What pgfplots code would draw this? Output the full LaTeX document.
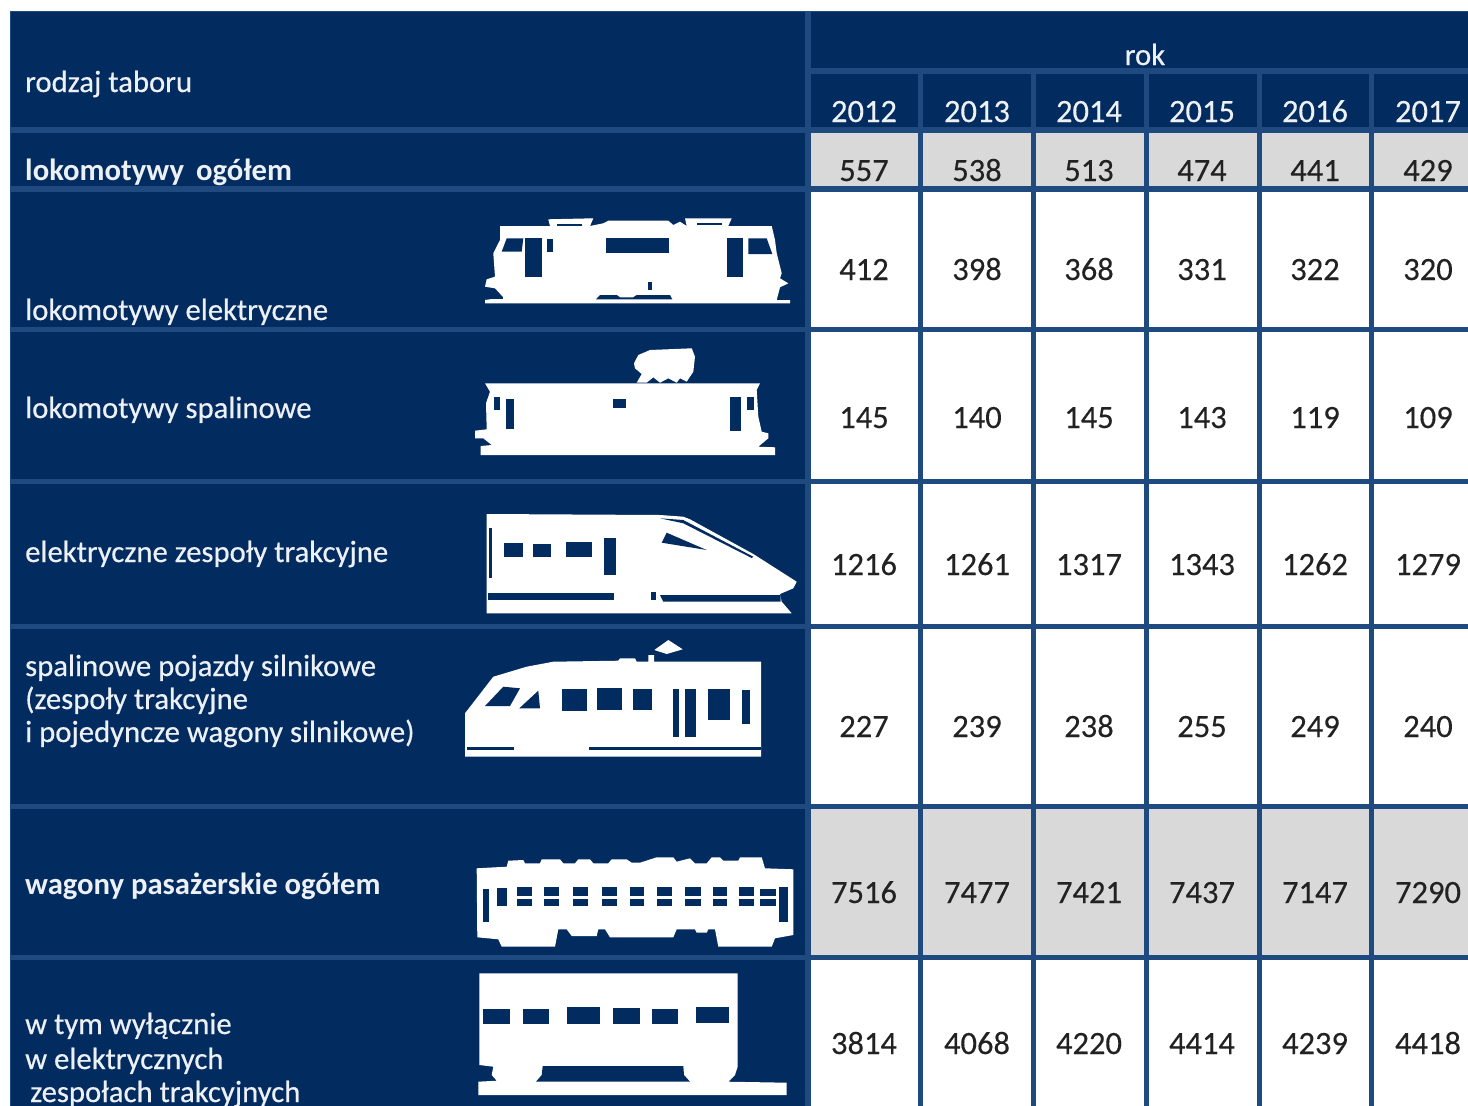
\documentclass[border=0pt]{standalone}
\usepackage{fontspec}
\setmainfont{Carlito}
\newfontfamily\labfont[FakeBold=0.5]{Carlito}
\newfontfamily\numfont[FakeBold=0.25]{Carlito}
\usepackage{pgfplots}
\usepackage{pgfplotstable}
\pgfplotsset{compat=1.18}
\definecolor{navy}{HTML}{022B60}
\definecolor{rule}{HTML}{1F4A80}
\definecolor{cellgrey}{HTML}{D9D9D9}
\definecolor{ink}{HTML}{222222}
\definecolor{pale}{HTML}{EDF1F6}

% baseline of each row, then the yearly values
\pgfplotstableread{
y    a    b    c    d    e    f
181  557  538  513  474  441  429
280  412  398  368  331  322  320
428  145  140  145  143  119  109
575  1216 1261 1317 1343 1262 1279
737  227  239  238  255  249  240
903  7516 7477 7421 7437 7147 7290
1054 3814 4068 4220 4414 4239 4418
}\taborvalues
\pgfplotstableread{
x    y   year
864  122 2012
977  122 2013
1089 122 2014
1202 122 2015
1315 122 2016
1428 122 2017
}\taboryears

\newcommand\rect[5]{\addplot[fill=#5,draw=none] coordinates {(#1,#2)(#3,#2)(#3,#4)(#1,#4)} --cycle;}
\newcommand\shape[2]{\addplot[fill=#1,draw=none] coordinates {#2} --cycle;}
\newcommand\col[2]{\addplot[draw=none,nodes near coords,point meta=explicit symbolic,
  nodes near coords style={anchor=base,text=ink,font=\numfont\fontsize{32.5}{33}\selectfont,inner sep=0pt}]
  table[x expr=#1,y=y,meta=#2] {\taborvalues};}
\newcommand\lab[3][\labfont]{\node[anchor=base west,inner sep=0pt,text=pale,font=#1\fontsize{30.7}{31}\selectfont] at (axis cs:#2) {#3};}

\begin{document}
\begin{tikzpicture}
\useasboundingbox (0,0) rectangle (1468pt,1106pt);
\clip (0,0) rectangle (1468pt,1106pt);
\begin{axis}[anchor=south west,at={(0,0)},width=1468pt,height=1106pt,scale only axis,
  xmin=0,xmax=1468,ymin=0,ymax=1106,y dir=reverse,hide axis]

% table ground and rules
\rect{10}{11}{1468}{1106}{navy}
\rect{10}{11}{1468}{12}{rule}
\rect{10}{11}{11}{1106}{rule}
\rect{805}{11}{810.5}{1106}{rule}
\rect{810}{68}{1468}{73.5}{rule}
\rect{918}{73}{923}{1106}{rule}
\rect{1031}{73}{1036}{1106}{rule}
\rect{1143.5}{73}{1148.5}{1106}{rule}
\rect{1256.5}{73}{1261.5}{1106}{rule}
\rect{1369}{73}{1374}{1106}{rule}
\rect{10}{127}{1468}{133}{rule}
\rect{10}{186}{1468}{191.5}{rule}
\rect{10}{327}{1468}{332}{rule}
\rect{10}{479}{1468}{484}{rule}
\rect{10}{624}{1468}{629}{rule}
\rect{10}{804}{1468}{809}{rule}
\rect{10}{955}{1468}{960}{rule}

% cells, row by row
\rect{810.5}{133}{918}{186}{cellgrey}
\rect{923}{133}{1031}{186}{cellgrey}
\rect{1036}{133}{1143.5}{186}{cellgrey}
\rect{1148.5}{133}{1256.5}{186}{cellgrey}
\rect{1261.5}{133}{1369}{186}{cellgrey}
\rect{1374}{133}{1468}{186}{cellgrey}
\rect{810.5}{191.5}{918}{327}{white}
\rect{923}{191.5}{1031}{327}{white}
\rect{1036}{191.5}{1143.5}{327}{white}
\rect{1148.5}{191.5}{1256.5}{327}{white}
\rect{1261.5}{191.5}{1369}{327}{white}
\rect{1374}{191.5}{1468}{327}{white}
\rect{810.5}{332}{918}{479}{white}
\rect{923}{332}{1031}{479}{white}
\rect{1036}{332}{1143.5}{479}{white}
\rect{1148.5}{332}{1256.5}{479}{white}
\rect{1261.5}{332}{1369}{479}{white}
\rect{1374}{332}{1468}{479}{white}
\rect{810.5}{484}{918}{624}{white}
\rect{923}{484}{1031}{624}{white}
\rect{1036}{484}{1143.5}{624}{white}
\rect{1148.5}{484}{1256.5}{624}{white}
\rect{1261.5}{484}{1369}{624}{white}
\rect{1374}{484}{1468}{624}{white}
\rect{810.5}{629}{918}{804}{white}
\rect{923}{629}{1031}{804}{white}
\rect{1036}{629}{1143.5}{804}{white}
\rect{1148.5}{629}{1256.5}{804}{white}
\rect{1261.5}{629}{1369}{804}{white}
\rect{1374}{629}{1468}{804}{white}
\rect{810.5}{809}{918}{955}{cellgrey}
\rect{923}{809}{1031}{955}{cellgrey}
\rect{1036}{809}{1143.5}{955}{cellgrey}
\rect{1148.5}{809}{1256.5}{955}{cellgrey}
\rect{1261.5}{809}{1369}{955}{cellgrey}
\rect{1374}{809}{1468}{955}{cellgrey}
\rect{810.5}{960}{918}{1106}{white}
\rect{923}{960}{1031}{1106}{white}
\rect{1036}{960}{1143.5}{1106}{white}
\rect{1148.5}{960}{1256.5}{1106}{white}
\rect{1261.5}{960}{1369}{1106}{white}
\rect{1374}{960}{1468}{1106}{white}

% electric locomotive
\shape{white}{(500,226)(550,226)(548.3,219.3)(593.3,218.3)(590,226)(603.3,223.3)(608.3,220.7)(668.3,220.7)(673.3,225)(680,221.7)(686.7,226)(685,218.3)(731.7,218.3)(728.3,226)(771.7,226)(775,240)(776.7,253.3)(781.7,273.3)(780,278.3)(788.3,283.3)(780,287.3)(776.7,300)(790,300)(790,303.3)(485,303.3)(485,300)(503.3,297.3)(495,288.3)(485,286.7)(486.7,279.3)(495,276.7)(493.3,253.3)(500,240)}
\shape{navy}{(501.7,251.7)(506.7,238.3)(523.3,238.3)(521.7,251.7)}
\rect{525}{238.3}{541.7}{277.3}{navy}
\rect{547.3}{239.3}{552.7}{252.3}{navy}
\rect{605.7}{237.7}{669}{252.7}{navy}
\rect{727.3}{238.3}{742.7}{277.3}{navy}
\shape{navy}{(748.3,238.3)(766.7,238.3)(772.3,254)(748.3,254)}
\shape{navy}{(596,299.3)(600,295)(616.7,295)(620,297.3)(633.3,297.3)(636.7,295)(670,295)(672.3,299.3)}
\rect{647.7}{282.3}{652.3}{290}{navy}
\rect{490}{296.7}{503}{299.3}{navy}
\rect{556.7}{223.5}{581.7}{225.5}{navy}
\rect{696.7}{223}{721.7}{225}{navy}

% diesel locomotive
\shape{white}{(485,383.3)(760,383.3)(756.7,390)(758.3,416.7)(761.7,431.7)(768.3,433.3)(768.3,438.3)(758.3,446.7)(775,447.3)(775,455)(480.7,455)(480.7,446)(491.7,445)(483.3,438.3)(475,438.3)(475,430.7)(486.7,429.3)(486,403.3)(490,391.7)}
\shape{white}{(634,363.3)(638.3,355)(650,350)(691.7,348.3)(695,356.7)(693.3,371.7)(686.7,381.7)(680,378.3)(676.7,382.7)(668.3,378.3)(660,382.7)(653.3,377.3)(646.7,382.7)(636.7,382.7)(641.7,374)(635,368.3)}
\rect{494.3}{397.3}{500}{410}{navy}
\rect{505.7}{399.3}{514}{429.3}{navy}
\rect{613.3}{399.3}{626}{408}{navy}
\rect{730}{397.3}{741}{430.7}{navy}
\rect{747.3}{397.3}{754}{410}{navy}

% electric multiple unit
\shape{white}{(486.7,514)(660,515)(683.3,516.7)(690,519.3)(753.3,554)(796.7,581.7)(793.3,588.3)(780,594)(781.7,601.7)(791.7,613.3)(486.7,613.3)(486.7,591.7)}
\shape{navy}{(660,518.3)(683.3,520)(753.3,556.7)(751.7,558)(683.3,523.3)}
\shape{navy}{(666.7,532.7)(706.7,550)(661.7,542.7)}
\rect{489.3}{528.3}{492}{578.3}{navy}
\rect{504.3}{543.3}{523.3}{557.3}{navy}
\rect{533.3}{544.3}{550.7}{557.3}{navy}
\rect{566}{541.7}{592.3}{557.3}{navy}
\rect{604}{537.7}{615.7}{575}{navy}
\rect{488.3}{593.3}{614}{600}{navy}
\rect{650.7}{591.7}{656}{600}{navy}
\shape{navy}{(660,595)(780.7,595)(780.7,601.7)(663.3,601.7)}

% diesel unit
\shape{white}{(465,713.3)(493.3,676.7)(526.7,666.7)(553.3,661.7)(618.3,660.7)(620,658.3)(635,658.3)(636.7,661.7)(648.3,661.7)(648.3,655)(654,655)(654,661.7)(761,661.7)(761,756.7)(465,756.7)}
\shape{white}{(654.3,650)(668.3,640)(682.7,649.3)(666.7,654)}
\shape{navy}{(485,706)(503.3,686.7)(520,688.3)(510,706)}
\shape{navy}{(519.3,708.3)(538.3,690.7)(540,708.3)}
\rect{561.7}{689.3}{587.3}{710.7}{navy}
\rect{597.3}{687.7}{621.7}{710}{navy}
\rect{633.3}{689.3}{651.7}{710}{navy}
\rect{673.3}{689.3}{679.3}{736.7}{navy}
\rect{685}{689.3}{696}{736.7}{navy}
\rect{708.3}{689.3}{730}{720}{navy}
\rect{742}{690}{750}{724.3}{navy}
\rect{466.7}{746.7}{514.3}{750}{navy}
\rect{589.3}{746.7}{761}{750}{navy}

% passenger coach
\shape{white}{(476.7,868.3)(506.7,866.7)(508.3,860.7)(523.3,860)(525,863.3)(540,863.3)(541.7,859.3)(560,859.3)(563.3,863.3)(575,863.3)(578.3,859.3)(590,859.3)(593.3,863.3)(608.3,863.3)(611.7,859.3)(626.7,859.3)(631.7,862.7)(640,862.7)(656.7,857.3)(673.3,857.3)(676.7,861.7)(690,858.3)(695,863.3)(706.7,863.3)(711.7,857.3)(720,857.3)(723.3,860.7)(738.3,860.7)(740,857.3)(761.7,857.3)(765,868.3)(793.3,869.3)(793.3,935)(775,938.3)(771.7,946.7)(718.3,946.7)(715,929.3)(708.3,929.3)(706.7,932.7)(696.7,932.7)(695,929.3)(676.7,929.3)(673.3,937.3)(610,937.3)(605,929.3)(598.3,929.3)(596.7,936)(571.7,936)(566.7,929.3)(558.3,929.3)(555,946.7)(501.7,946.7)(498.3,939.3)(477.3,937.3)}
\rect{482.7}{889.3}{489.3}{921.7}{navy}
\rect{497.3}{888.3}{506.7}{906}{navy}
\rect{779.3}{887.3}{787.7}{921.7}{navy}
\rect{516.7}{887.3}{531.7}{896}{navy}
\rect{516.7}{899}{531.7}{906}{navy}
\rect{544.3}{887.3}{559}{896}{navy}
\rect{544.3}{899}{559}{906}{navy}
\rect{572.7}{887.3}{588.3}{896}{navy}
\rect{572.7}{899}{588.3}{906}{navy}
\rect{602.3}{887.3}{617.3}{896}{navy}
\rect{602.3}{899}{617.3}{906}{navy}
\rect{630}{887.3}{644}{896}{navy}
\rect{630}{899}{644}{906}{navy}
\rect{656.7}{887.3}{671.7}{896}{navy}
\rect{656.7}{899}{671.7}{906}{navy}
\rect{685}{887.3}{700.7}{896}{navy}
\rect{685}{899}{700.7}{906}{navy}
\rect{712.7}{887.3}{727.3}{896}{navy}
\rect{712.7}{899}{727.3}{906}{navy}
\rect{739.3}{887.3}{754}{896}{navy}
\rect{739.3}{899}{754}{906}{navy}
\rect{760}{889}{775.7}{896}{navy}
\rect{760}{899}{775.7}{906}{navy}

% coach of a multiple unit
\shape{white}{(479.3,973.3)(737.7,973.3)(737.7,1066.7)(735,1075)(728.3,1081.7)(786.7,1082.7)(786.7,1095)(478.3,1095)(478.3,1081.7)(496.7,1080.7)(491.7,1075)(493.3,1066.7)(479.3,1065)}
\shape{navy}{(542.7,1066)(683.3,1066)(684,1075)(690,1081.7)(536,1081.7)(541.7,1075)}
\rect{482.7}{1009}{510}{1024}{navy}
\rect{522.7}{1009}{549.3}{1024}{navy}
\rect{566.7}{1006.7}{600}{1024}{navy}
\rect{613.3}{1008.3}{640}{1024}{navy}
\rect{652.3}{1009}{678.3}{1024}{navy}
\rect{696}{1006.7}{729.3}{1023.3}{navy}

% numbers
\addplot[draw=none,nodes near coords,point meta=explicit symbolic,
  nodes near coords style={anchor=base,text=pale,font=\numfont\fontsize{32.5}{33}\selectfont,inner sep=0pt}]
  table[x=x,y=y,meta=year] {\taboryears};
\col{864}{a}
\col{977}{b}
\col{1089}{c}
\col{1202}{d}
\col{1315}{e}
\col{1428}{f}

% header and row labels
\node[anchor=base,inner sep=0pt,text=pale,font=\labfont\fontsize{30.7}{31}\selectfont] at (axis cs:1145,65) {rok};
\lab{25,92}{rodzaj taboru}
\lab[\bfseries]{25,180}{lokomotywy\, ogółem}
\lab{25,320}{lokomotywy elektryczne}
\lab{25,418}{lokomotywy spalinowe}
\lab{25,562}{elektryczne zespoły trakcyjne}
\lab{25,676}{spalinowe pojazdy silnikowe}
\lab{25,709}{(zespoły trakcyjne}
\lab{25,742}{i pojedyncze wagony silnikowe)}
\lab[\bfseries]{25,894}{wagony pasażerskie ogółem}
\lab{25,1034}{w tym wyłącznie}
\lab{25,1069}{w elektrycznych}
\lab{30,1102}{zespołach trakcyjnych}
\end{axis}
\end{tikzpicture}
\end{document}
